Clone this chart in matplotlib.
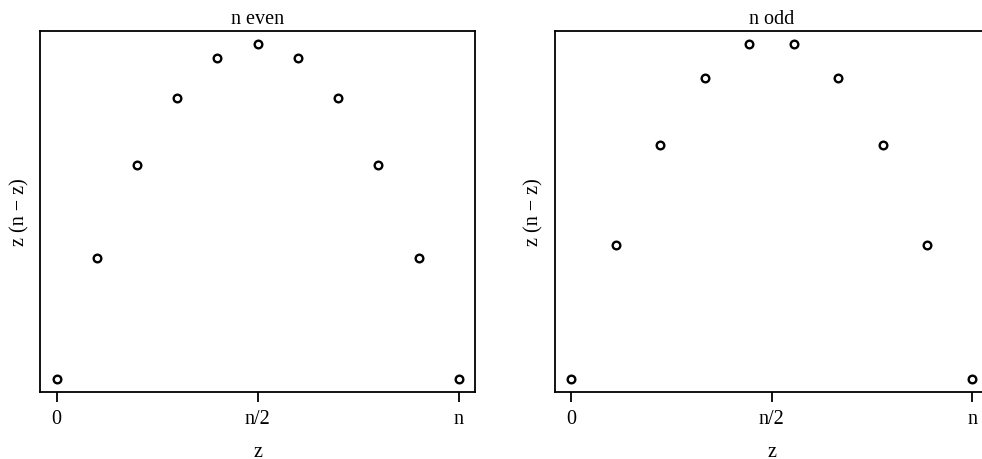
import numpy as np
import matplotlib.pyplot as plt

plt.rcParams["font.family"] = ["Liberation Serif", "DejaVu Serif"]

# n even (n = 10)
z_even = [0, 1, 2, 3, 4, 5, 6, 7, 8, 9, 10]
y_even = [0, 9, 16, 21, 24, 25, 24, 21, 16, 9, 0]
# n odd (n = 9)
z_odd = [0, 1, 2, 3, 4, 5, 6, 7, 8, 9]
y_odd = [0, 8, 14, 18, 20, 20, 18, 14, 8, 0]

tick_labels = ["0", "n/2", "n"]
titles = ["n even", "n odd"]


def panel(ax, z, y, title):
    n = z[-1]
    ax.plot(z, y, "o", ms=5.5, mfc="white", mec="black", mew=1.7)
    pad_x = 0.04 * n
    pad_y = 0.04 * max(y)
    ax.set_xlim(-pad_x, n + pad_x)
    ax.set_ylim(-pad_y, max(y) + pad_y)
    ax.set_xticks([0, n / 2, n])
    ax.set_xticklabels(tick_labels, fontsize=14.5)
    ax.set_yticks([])
    ax.tick_params(axis="x", direction="out", length=7, width=1.3, pad=5)
    for s in ax.spines.values():
        s.set_linewidth(1.3)
    ax.set_title(title, fontsize=14.5, pad=6)
    ax.set_xlabel("z", fontsize=14.5, labelpad=10)
    ax.set_ylabel("z (n \u2212 z)", fontsize=14.5, labelpad=8)


fig = plt.figure(figsize=(9.82, 4.60), dpi=100)
ax1 = fig.add_axes([0.0412, 0.1457, 0.4425, 0.785])
ax2 = fig.add_axes([0.5652, 0.1457, 0.441, 0.785])
panel(ax1, z_even, y_even, titles[0])
panel(ax2, z_odd, y_odd, titles[1])

fig.savefig("out.png", dpi=100)
